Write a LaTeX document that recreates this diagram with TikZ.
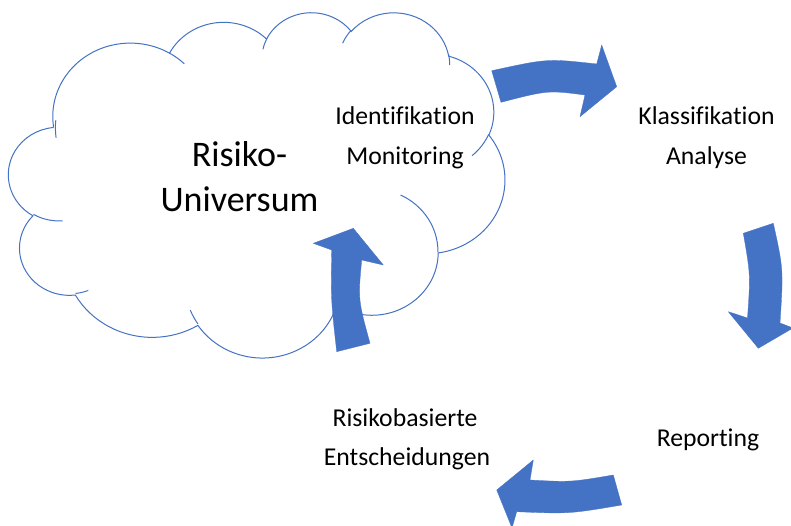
\documentclass[tikz,border=0pt]{standalone}
\usepackage{fontspec}
\setmainfont{Carlito}[Ligatures={NoCommon}]
\definecolor{pptblue}{HTML}{4472C4}
\begin{document}
\begin{tikzpicture}[x=1pt,y=-1pt,
  cloudline/.style={draw=pptblue, line width=1pt},
  blockarrow/.style={fill=pptblue, draw=pptblue, line width=0.3pt, line join=round},
  lbl/.style={font=\fontsize{25.7}{30}\selectfont, anchor=base, inner sep=0pt},
  big/.style={font=\fontsize{36}{40}\selectfont, anchor=base, inner sep=0pt}]
\fill[white] (0,0) rectangle (791,526);
\useasboundingbox (0,0) rectangle (791,526);
% cloud (PowerPoint preset geometry, 43200 units / 100)
\begin{scope}[shift={(8.7,11.6)}, x=1.1483pt, y=-0.799pt]
\path[cloudline, fill=white] (39.00,143.70)
 arc[start angle=-187.74, delta angle=128.10, x radius=67.53, y radius=91.90]
 arc[start angle=-152.03, delta angle=106.57, x radius=53.33, y radius=72.67]
 arc[start angle=-153.49, delta angle=116.19, x radius=43.65, y radius=59.45]
 arc[start angle=-139.70, delta angle=129.49, x radius=48.57, y radius=65.95]
 arc[start angle=-74.77, delta angle=97.98, x radius=53.33, y radius=72.73]
 arc[start angle=-37.51, delta angle=119.37, x radius=67.75, y radius=92.20]
 arc[start angle=0.46, delta angle=121.51, x radius=57.85, y radius=78.67]
 arc[start angle=16.84, delta angle=129.39, x radius=67.52, y radius=92.15]
 arc[start angle=58.98, delta angle=91.20, x radius=77.20, y radius=105.43]
 arc[start angle=-276.69, delta angle=139.79, x radius=43.60, y radius=59.18]
 arc[start angle=-239.64, delta angle=143.75, x radius=43.45, y radius=59.45]
 -- cycle;
\draw[cloudline] (46.93,261.77) arc[start angle=85.55, delta angle=34.81, x radius=43.45, y radius=59.45];
\draw[cloudline] (69.28,348.99) arc[start angle=68.23, delta angle=15.08, x radius=43.60, y radius=59.18];
\draw[cloudline] (164.78,390.90) arc[start angle=146.23, delta angle=12.24, x radius=67.52, y radius=92.15];
\draw[cloudline] (288.27,347.51) arc[start angle=4.74, delta angle=12.10, x radius=67.52, y radius=92.15];
\draw[cloudline] (341.29,229.54) arc[start angle=-64.03, delta angle=64.49, x radius=57.85, y radius=78.67];
\draw[cloudline] (417.98,153.54) arc[start angle=23.21, delta angle=26.44, x radius=53.33, y radius=72.73];
\draw[cloudline] (383.24,54.26) arc[start angle=-10.21, delta angle=11.03, x radius=48.57, y radius=65.95];
\draw[cloudline] (290.78,39.52) arc[start angle=-156.29, delta angle=16.59, x radius=48.57, y radius=65.95];
\draw[cloudline] (221.41,47.20) arc[start angle=-167.73, delta angle=14.24, x radius=43.65, y radius=59.45];
\draw[cloudline] (140.00,51.92) arc[start angle=-59.64, delta angle=13.90, x radius=67.53, y radius=91.90];
\draw[cloudline] (41.27,157.89) arc[start angle=-187.74, delta angle=13.68, x radius=67.53, y radius=91.90];
\end{scope}
% block arrows
\fill[blockarrow] (491.7,70.7) .. controls (547.5,58.5) .. (596.7,64) -- (601.7,45) -- (616.7,86.7)
  -- (580,116.7) -- (585,95) .. controls (547.9,90.2) .. (501,102.3) -- cycle;
\fill[blockarrow] (743.3,233.3) .. controls (750.5,274.7) .. (747.5,318) -- (728.3,311.7) -- (758.3,348.3)
  -- (793,328) -- (780,323) .. controls (783.4,269.2) .. (773.3,223.3) -- cycle;
\fill[blockarrow] (613.3,475) .. controls (570.8,482.2) .. (530,480) -- (533.3,460) -- (496.7,490)
  -- (512,528) -- (516.7,511.7) .. controls (569.2,513.9) .. (621.7,505) -- cycle;
\fill[blockarrow] (336.7,351.7) .. controls (330.9,299.7) .. (331.7,250) -- (313.3,243.3) -- (353.3,228.3)
  -- (383.3,265) -- (361.7,260) .. controls (358,299.5) .. (370,343.3) -- cycle;
% texts
\node[big] (risiko) at (239.5,166.7) {Risiko-};
\node[big] (universum) at (239.5,211.7) {Universum};
\node[lbl] (ident) at (405,125) {Identifikation};
\node[lbl] (monit) at (405,165) {Monitoring};
\node[lbl] (klass) at (706.5,125) {Klassifikation};
\node[lbl] (analyse) at (706.5,165) {Analyse};
\node[lbl] (report) at (708,446.7) {Reporting};
\node[lbl] (risikob) at (405,426.7) {Risikobasierte};
\node[lbl] (entsch) at (407,465) {Entscheidungen};
\end{tikzpicture}
\end{document}
